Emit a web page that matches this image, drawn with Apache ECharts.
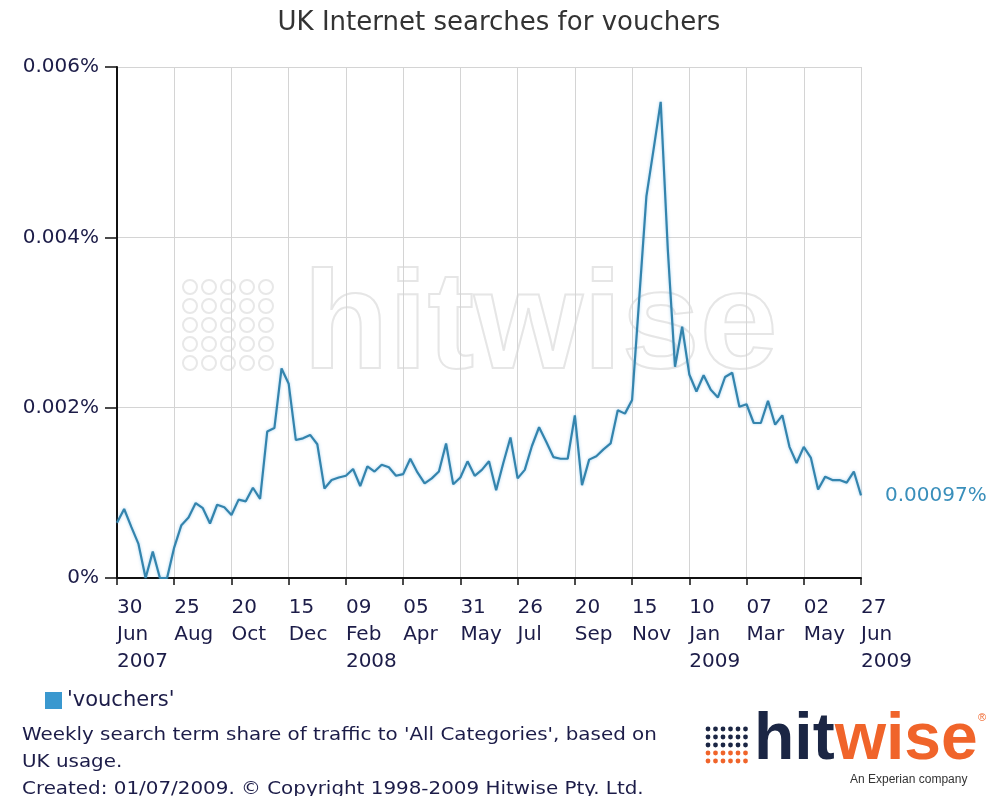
<!DOCTYPE html>
<html>
<head>
<meta charset="utf-8">
<script src="https://cdn.jsdelivr.net/npm/echarts@6/dist/echarts.min.js"></script>
<style>
  html, body { margin: 0; padding: 0; background: #fff; }
  #main { width: 998px; height: 796px; }
</style>
</head>
<body>
<div id="main"></div>
<script>
// weekly share in %, 30 Jun 2007 .. 27 Jun 2009
const shares = [
  0.00065, 0.00081, 0.00060, 0.00040, 0.00000, 0.00031, 0.00000, 0.00000,
  0.00036, 0.00062, 0.00071, 0.00088, 0.00082, 0.00064, 0.00086, 0.00083,
  0.00074, 0.00092, 0.00090, 0.00106, 0.00093, 0.00172, 0.00176, 0.00246,
  0.00228, 0.00162, 0.00164, 0.00168, 0.00157, 0.00105, 0.00115, 0.00118,
  0.00120, 0.00128, 0.00108, 0.00131, 0.00125, 0.00133, 0.00130, 0.00120,
  0.00122, 0.00140, 0.00124, 0.00111, 0.00117, 0.00125, 0.00158, 0.00110,
  0.00118, 0.00137, 0.00120, 0.00127, 0.00137, 0.00103, 0.00135, 0.00165,
  0.00117, 0.00127, 0.00155, 0.00177, 0.00160, 0.00142, 0.00140, 0.00140,
  0.00191, 0.00109, 0.00139, 0.00143, 0.00151, 0.00158, 0.00197, 0.00193,
  0.00209, 0.00328, 0.00448, 0.00503, 0.00559, 0.00385, 0.00248, 0.00295,
  0.00239, 0.00219, 0.00238, 0.00221, 0.00212, 0.00236, 0.00241, 0.00201,
  0.00204, 0.00182, 0.00182, 0.00208, 0.00180, 0.00191, 0.00154, 0.00135,
  0.00154, 0.00141, 0.00104, 0.00119, 0.00115, 0.00115, 0.00112, 0.00125,
  0.00097
];

// one label every 8 weeks
const tickLabels = [
  "30\nJun\n2007", "25\nAug", "20\nOct", "15\nDec", "09\nFeb\n2008",
  "05\nApr", "31\nMay", "26\nJul", "20\nSep", "15\nNov",
  "10\nJan\n2009", "07\nMar", "02\nMay", "27\nJun\n2009"
];

const weeks = shares.map((v, i) => (i % 8 === 0 ? tickLabels[i / 8] : "w" + i));

const chart = echarts.init(document.getElementById("main"));

const textColor = "#1c1c48";
const font = "DejaVu Sans";

// watermark dots + logo dots
const wmDots = [];
for (let r = 0; r < 5; r++) {
  for (let c = 0; c < 5; c++) {
    wmDots.push({
      type: "circle",
      silent: true,
      z: -1,
      shape: { cx: 190 + c * 19, cy: 287 + r * 19, r: 7 },
      style: { fill: "none", stroke: "#e8e8e8", lineWidth: 2 },
    });
  }
}
const logoDots = [];
for (let r = 0; r < 5; r++) {
  for (let c = 0; c < 6; c++) {
    logoDots.push({
      type: "circle",
      silent: true,
      shape: { cx: 708 + c * 7.5, cy: 729 + r * 8, r: 2.4 },
      style: { fill: r < 3 ? "#1b2644" : "#f0642a" },
    });
  }
}

const options = {
  animation: false,
  title: {
    text: "UK Internet searches for vouchers",
    left: "center",
    top: 5,
    textStyle: { fontFamily: font, fontSize: 26, fontWeight: "normal", color: "#333" },
  },
  legend: {
    left: 40,
    top: 685,
    icon: "rect",
    itemWidth: 17,
    itemHeight: 17,
    itemGap: 6,
    data: [{ name: "'vouchers'", itemStyle: { color: "#3a98cf" } }],
    textStyle: { fontFamily: font, fontSize: 21, color: textColor },
  },
  grid: { left: 117, right: 137, top: 67, bottom: 218 },
  xAxis: {
    type: "category",
    data: weeks,
    boundaryGap: false,
    axisLine: { lineStyle: { color: "#111", width: 2 } },
    axisTick: { interval: 7, length: 7, lineStyle: { color: "#111", width: 1.5 } },
    axisLabel: {
      interval: 7,
      align: "left",
      margin: 16,
      lineHeight: 27,
      fontFamily: font,
      fontSize: 20,
      color: textColor,
    },
    splitLine: { show: true, interval: 7, lineStyle: { color: "#d4d4d4", width: 1 } },
  },
  yAxis: {
    type: "value",
    min: 0,
    max: 0.006,
    interval: 0.002,
    axisLine: { show: true, lineStyle: { color: "#111", width: 2 } },
    axisTick: { show: true, length: 12, lineStyle: { color: "#111", width: 1.5 } },
    axisLabel: {
      margin: 18,
      fontFamily: font,
      fontSize: 20,
      color: textColor,
      formatter: (v) => (v === 0 ? "0%" : v.toFixed(3) + "%"),
    },
    splitLine: { lineStyle: { color: "#d4d4d4", width: 1 } },
  },
  series: [
    {
      name: "'vouchers'",
      type: "line",
      data: shares,
      symbol: "none",
      lineStyle: { color: "#3484ad", width: 2.2, shadowColor: "rgba(80,170,230,0.5)", shadowBlur: 3 },
      itemStyle: { color: "#3484ad" },
      endLabel: {
        show: true,
        distance: 24,
        formatter: (p) => p.value.toFixed(5) + "%",
        fontFamily: font,
        fontSize: 20,
        color: "#3a8fbb",
      },
    },
  ],
  graphic: [
    ...wmDots,
    {
      type: "text",
      silent: true,
      z: -1,
      left: 302,
      top: 258,
      style: {
        text: "hitwise",
        font: "bold 140px 'Liberation Sans'",
        fill: "none",
        stroke: "#e6e6e6",
        lineWidth: 2,
      },
    },
    {
      type: "text",
      left: 22,
      top: 722,
      scaleX: 1.17,
      style: {
        text:
          "Weekly search term share of traffic to 'All Categories', based on\nUK usage.\nCreated: 01/07/2009. \u00a9 Copyright 1998-2009 Hitwise Pty. Ltd.",
        font: "17px 'DejaVu Sans'",
        lineHeight: 27,
        fill: textColor,
      },
    },
    ...logoDots,
    {
      type: "text",
      left: 754,
      top: 708,
      style: {
        text: "{a|hit}{b|wise}",
        rich: {
          a: { font: "bold 66px 'Liberation Sans'", fill: "#1b2644" },
          b: { font: "bold 66px 'Liberation Sans'", fill: "#f0642a" },
        },
      },
    },
    {
      type: "text",
      left: 978,
      top: 712,
      style: { text: "\u00ae", font: "11px 'Liberation Sans'", fill: "#f0642a" },
    },
    {
      type: "text",
      left: 850,
      top: 774,
      style: { text: "An Experian company", font: "12px 'Liberation Sans'", fill: "#333" },
    },
  ],
};

chart.setOption(options);
</script>
</body>
</html>
